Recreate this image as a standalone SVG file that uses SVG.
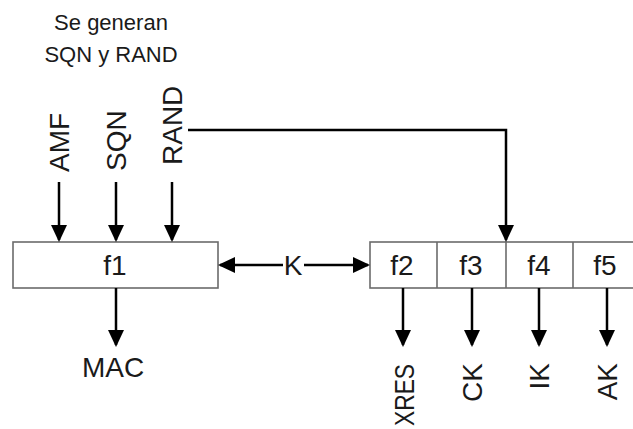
<svg xmlns="http://www.w3.org/2000/svg" width="633" height="429" viewBox="0 0 633 429">
<style>
text{font-family:"Liberation Sans",Arial,sans-serif;fill:#1a1a1a}
.lbl{font-size:28px}
.cap{font-size:22px;text-anchor:middle}
.box{fill:#fff;stroke:#6b6b6b;stroke-width:1.6}
.div{stroke:#6b6b6b;stroke-width:1.6}
.c{fill:none;stroke:#000;stroke-width:2.5}
.m{text-anchor:middle}
</style>
<defs>
<marker id="ah" markerUnits="userSpaceOnUse" markerWidth="17" markerHeight="16" refX="15" refY="8" orient="auto-start-reverse" viewBox="0 0 17 16">
<path d="M0,0 L17,8 L0,16 z" fill="#000"/>
</marker>
</defs>
<rect width="633" height="429" fill="#fff"/>
<g id="caption">
<text class="cap" x="111" y="30">Se generan</text>
<text class="cap" x="111" y="62">SQN y RAND</text>
</g>
<g id="inputs">
<text class="lbl" transform="translate(69,172) rotate(-90)">AMF</text>
<text class="lbl" transform="translate(126,171) rotate(-90)">SQN</text>
<text class="lbl" transform="translate(182,165) rotate(-90)">RAND</text>
</g>
<g id="f1">
<rect class="box" x="13" y="242" width="205" height="46"/>
<text class="lbl m" x="115" y="275">f1</text>
</g>
<g id="f2-f5">
<rect class="box" x="370" y="242" width="272" height="46"/>
<line class="div" x1="437" y1="242" x2="437" y2="288"/>
<line class="div" x1="506" y1="242" x2="506" y2="288"/>
<line class="div" x1="573" y1="242" x2="573" y2="288"/>
<text class="lbl m" x="402" y="275">f2</text>
<text class="lbl m" x="471" y="275">f3</text>
<text class="lbl m" x="539" y="275">f4</text>
<text class="lbl m" x="605" y="275">f5</text>
</g>
<g id="k-label">
<text class="lbl m" x="293" y="275">K</text>
</g>
<g id="mac">
<text class="lbl m" x="113" y="377">MAC</text>
</g>
<g id="outputs">
<text class="lbl" text-anchor="end" textLength="62" lengthAdjust="spacingAndGlyphs" transform="translate(414,364) rotate(-90)">XRES</text>
<text class="lbl" text-anchor="end" transform="translate(482,363) rotate(-90)">CK</text>
<text class="lbl" text-anchor="end" transform="translate(549,363) rotate(-90)">IK</text>
<text class="lbl" text-anchor="end" transform="translate(617,363) rotate(-90)">AK</text>
</g>
<g id="connectors">
<line class="c" x1="59" y1="182" x2="59" y2="240" marker-end="url(#ah)"/>
<line class="c" x1="116" y1="182" x2="116" y2="240" marker-end="url(#ah)"/>
<line class="c" x1="172" y1="182" x2="172" y2="240" marker-end="url(#ah)"/>
<path class="c" d="M188,130 H506 V240" marker-end="url(#ah)"/>
<line class="c" x1="283" y1="265" x2="220" y2="265" marker-end="url(#ah)"/>
<line class="c" x1="304" y1="265" x2="368" y2="265" marker-end="url(#ah)"/>
<line class="c" x1="116" y1="288" x2="116" y2="345" marker-end="url(#ah)"/>
<line class="c" x1="403" y1="288" x2="403" y2="345" marker-end="url(#ah)"/>
<line class="c" x1="472" y1="288" x2="472" y2="345" marker-end="url(#ah)"/>
<line class="c" x1="539" y1="288" x2="539" y2="345" marker-end="url(#ah)"/>
<line class="c" x1="607" y1="288" x2="607" y2="345" marker-end="url(#ah)"/>
</g>
</svg>
